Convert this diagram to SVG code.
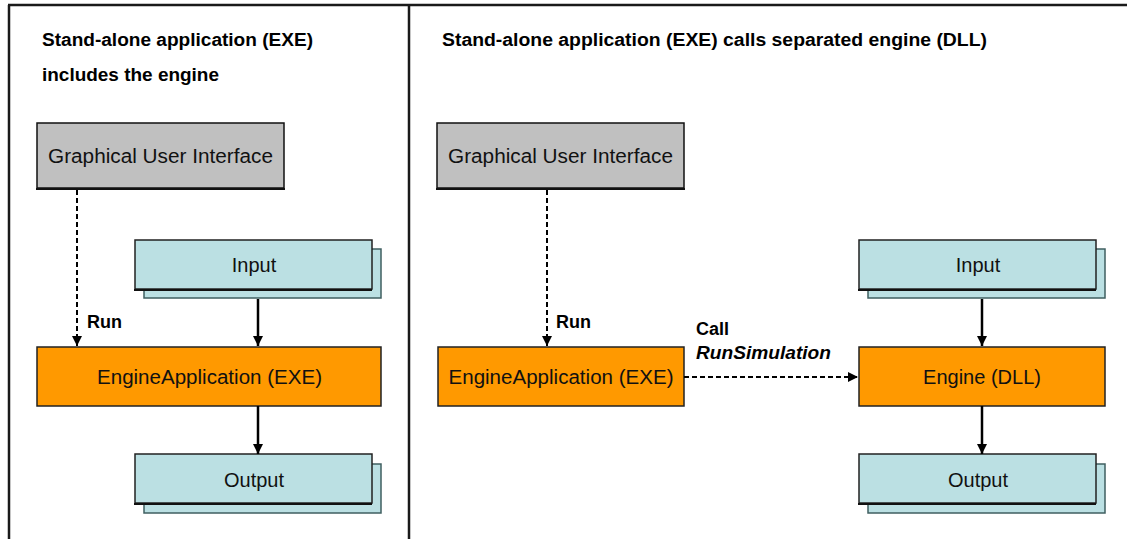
<svg xmlns="http://www.w3.org/2000/svg" width="1127" height="539" viewBox="0 0 1127 539">
  <style>
    .frame { stroke: #1a1a1a; stroke-width: 2.5; fill: none; }
    .title { font-family: "Liberation Sans", Arial, sans-serif; font-size: 18px; font-weight: bold; fill: #000; }
    .lbl { font-family: "Liberation Sans", Arial, sans-serif; font-size: 18px; font-weight: bold; fill: #000; }
    .node { font-family: "Liberation Sans", Arial, sans-serif; font-size: 20px; fill: #111; text-anchor: middle; }
    .gui { fill: #c0c0c0; stroke: #111; stroke-width: 1.5; }
    .data { fill: #bbe0e3; stroke: #222; stroke-width: 1.5; }
    .datash { fill: #bbe0e3; stroke: #3f5f60; stroke-width: 1.5; }
    .eng { fill: #ff9900; stroke: #222; stroke-width: 1.5; }
    .sh { stroke: #111; stroke-width: 2; }
    .dash { stroke: #000; stroke-width: 2; stroke-dasharray: 5 3; fill: none; }
    .solid { stroke: #000; stroke-width: 2.5; fill: none; }
  </style>
  <defs>
    <marker id="ah" viewBox="0 0 10 10" refX="10" refY="5" markerWidth="10" markerHeight="10" markerUnits="userSpaceOnUse" orient="auto">
      <path d="M0,0 L10,5 L0,10 z" fill="#000"/>
    </marker>
  </defs>
  <rect width="1127" height="539" fill="#fff"/>

  <g id="frame">
    <line class="frame" x1="9" y1="5" x2="9" y2="539"/>
    <line class="frame" x1="8" y1="5" x2="1127" y2="5"/>
    <line class="frame" x1="409" y1="5" x2="409" y2="539"/>
  </g>

  <g id="titles">
    <text class="title" x="42" y="46" textLength="271" lengthAdjust="spacingAndGlyphs">Stand-alone application (EXE)</text>
    <text class="title" x="42" y="81" textLength="177" lengthAdjust="spacingAndGlyphs">includes the engine</text>
    <text class="title" x="442" y="46" textLength="545" lengthAdjust="spacingAndGlyphs">Stand-alone application (EXE) calls separated engine (DLL)</text>
  </g>

  <!-- Left panel -->
  <g id="gui-left">
    <rect class="gui" x="37" y="123" width="247" height="65"/>
    <line class="sh" x1="36" y1="189" x2="285" y2="189"/>
    <text class="node" x="160.5" y="163" textLength="225" lengthAdjust="spacingAndGlyphs">Graphical User Interface</text>
  </g>
  <g id="input-left">
    <rect class="datash" x="144" y="249" width="237" height="49"/>
    <rect class="data" x="135" y="240" width="237" height="49"/>
    <line class="sh" x1="134" y1="290" x2="372" y2="290"/>
    <text class="node" x="254" y="272">Input</text>
  </g>
  <g id="engineapp-left">
    <rect class="eng" x="37" y="347" width="344" height="59"/>
    <text class="node" x="209.5" y="384" textLength="225" lengthAdjust="spacingAndGlyphs">EngineApplication (EXE)</text>
  </g>
  <g id="output-left">
    <rect class="datash" x="144" y="464" width="237" height="49"/>
    <rect class="data" x="135" y="454" width="237" height="49"/>
    <line class="sh" x1="134" y1="504" x2="372" y2="504"/>
    <text class="node" x="254" y="487">Output</text>
  </g>

  <!-- Right panel -->
  <g id="gui-right">
    <rect class="gui" x="437" y="123" width="247" height="65"/>
    <line class="sh" x1="436" y1="189" x2="685" y2="189"/>
    <text class="node" x="560.5" y="163" textLength="225" lengthAdjust="spacingAndGlyphs">Graphical User Interface</text>
  </g>
  <g id="engineapp-right">
    <rect class="eng" x="438" y="347" width="246" height="59"/>
    <text class="node" x="561" y="384" textLength="225" lengthAdjust="spacingAndGlyphs">EngineApplication (EXE)</text>
  </g>
  <g id="input-right">
    <rect class="datash" x="868" y="249" width="237" height="49"/>
    <rect class="data" x="859" y="240" width="237" height="49"/>
    <line class="sh" x1="858" y1="290" x2="1096" y2="290"/>
    <text class="node" x="978" y="272">Input</text>
  </g>
  <g id="engine-dll">
    <rect class="eng" x="859" y="347" width="246" height="59"/>
    <text class="node" x="982" y="384">Engine (DLL)</text>
  </g>
  <g id="output-right">
    <rect class="datash" x="868" y="464" width="237" height="49"/>
    <rect class="data" x="859" y="454" width="237" height="49"/>
    <line class="sh" x1="858" y1="504" x2="1096" y2="504"/>
    <text class="node" x="978" y="487">Output</text>
  </g>

  <g id="connectors">
    <line class="dash" x1="77" y1="190" x2="77" y2="346" marker-end="url(#ah)"/>
    <line class="solid" x1="258" y1="299" x2="258" y2="346" marker-end="url(#ah)"/>
    <line class="solid" x1="258" y1="406" x2="258" y2="454" marker-end="url(#ah)"/>
    <line class="dash" x1="547" y1="190" x2="547" y2="346" marker-end="url(#ah)"/>
    <line class="dash" x1="684" y1="377" x2="858" y2="377" marker-end="url(#ah)"/>
    <line class="solid" x1="982" y1="299" x2="982" y2="346" marker-end="url(#ah)"/>
    <line class="solid" x1="982" y1="406" x2="982" y2="454" marker-end="url(#ah)"/>
  </g>

  <g id="labels">
    <text class="lbl" x="87" y="328">Run</text>
    <text class="lbl" x="556" y="328">Run</text>
    <text class="lbl" x="696" y="335">Call</text>
    <text class="lbl" x="696" y="359" font-style="italic" textLength="135" lengthAdjust="spacingAndGlyphs">RunSimulation</text>
  </g>
</svg>
